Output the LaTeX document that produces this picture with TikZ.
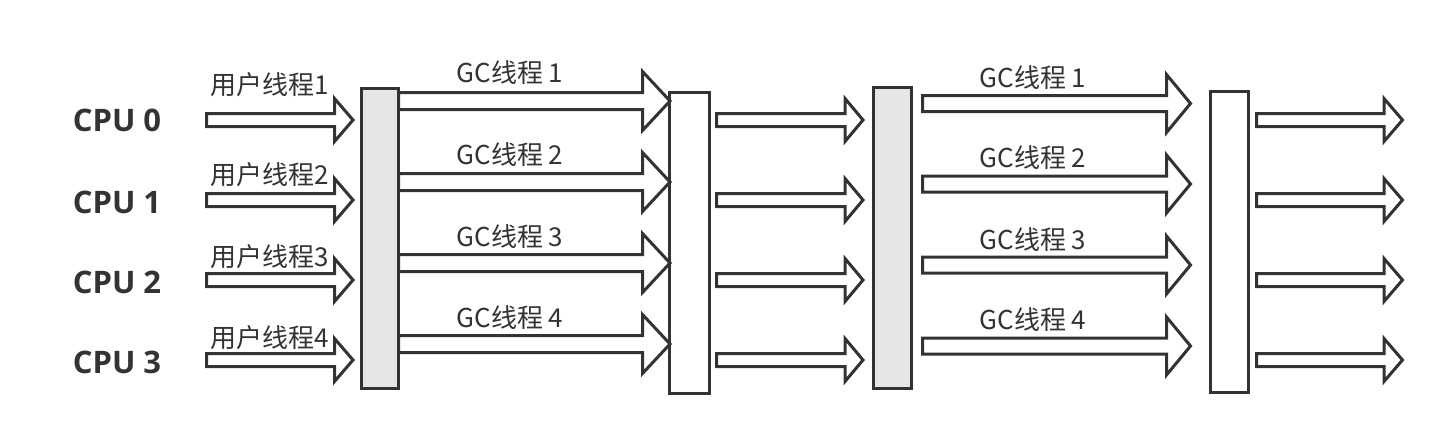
\documentclass[tikz,border=0pt]{standalone}
\usepackage{fontspec}
\setmainfont{Noto Sans CJK SC}
\newfontfamily\cpufont{Open Sans}[BoldFont={Open Sans Bold}]
\definecolor{ln}{HTML}{333333}
\definecolor{gfill}{HTML}{E6E6E6}
\tikzset{
  boxw/.style={draw=ln, line width=3pt, fill=white, inner sep=0pt, outer sep=0pt},
  boxg/.style={draw=ln, line width=3pt, fill=gfill, inner sep=0pt, outer sep=0pt},
  blockarrow/.style={draw=ln, line width=3pt, fill=white, line join=miter},
  lbl/.style={inner sep=0pt, text=ln, font=\fontsize{26}{30}\selectfont},
  cpulbl/.style={inner sep=0pt, text=ln, font=\cpufont\bfseries\fontsize{31}{36}\selectfont},
}
% start x, head base x, tip x, centre y, shaft half, head half
\newcommand\barrow[6]{%
  \draw[blockarrow] (#1,#4-#5) -- (#2,#4-#5) -- (#2,#4-#6) -- (#3,#4)
    -- (#2,#4+#6) -- (#2,#4+#5) -- (#1,#4+#5) -- cycle;}
\begin{document}
\begin{tikzpicture}[x=1pt,y=-1pt]
\useasboundingbox[fill=white] (0,0) rectangle (1454,444);

% boxes
\node[boxg, minimum width=37pt, minimum height=300pt] (b1) at (380,238.5) {};
\node[boxw, minimum width=40pt, minimum height=301pt] (b2) at (689.5,243) {};
\node[boxg, minimum width=38pt, minimum height=301pt] (b3) at (892.5,238) {};
\node[boxw, minimum width=38pt, minimum height=301pt] (b4) at (1229.5,242) {};

% CPU labels
\node[cpulbl] (c0) at (117,120) {CPU 0};
\node[cpulbl] (c1) at (117,202) {CPU 1};
\node[cpulbl] (c2) at (117,282) {CPU 2};
\node[cpulbl] (c3) at (117,362) {CPU 3};

% user thread arrows and labels
\foreach \y in {120,200,280,360} {\barrow{206.5}{334.5}{353}{\y}{6.5}{21.5}}
\node[lbl, anchor=west] (u1) at (210,85) {用户线程1};
\node[lbl, anchor=west] (u2) at (210,175) {用户线程2};
\node[lbl, anchor=west] (u3) at (210,257) {用户线程3};
\node[lbl, anchor=west] (u4) at (210,338) {用户线程4};

% first GC arrows
\foreach \y in {101,182,263,344} {\barrow{398.5}{642.5}{670}{\y}{8.5}{29.5}}
\node[lbl] (ga1) at (510,73) {GC线程 1};
\node[lbl] (ga2) at (510,155) {GC线程 2};
\node[lbl] (ga3) at (510,237) {GC线程 3};
\node[lbl] (ga4) at (510,318) {GC线程 4};

% middle arrows
\foreach \y in {120,200,280,360} {\barrow{716.5}{845}{863}{\y}{6.5}{21.5}}

% second GC arrows
\foreach \y in {103.5,184,265,346} {\barrow{922.5}{1166.5}{1190.5}{\y}{8}{29}}
\node[lbl] (gb1) at (1033,78) {GC线程 1};
\node[lbl] (gb2) at (1033,158) {GC线程 2};
\node[lbl] (gb3) at (1033,240) {GC线程 3};
\node[lbl] (gb4) at (1033,320) {GC线程 4};

% output arrows
\foreach \y in {120,200,280,360} {\barrow{1256.5}{1384}{1402.5}{\y}{6.5}{21.5}}
\end{tikzpicture}
\end{document}
